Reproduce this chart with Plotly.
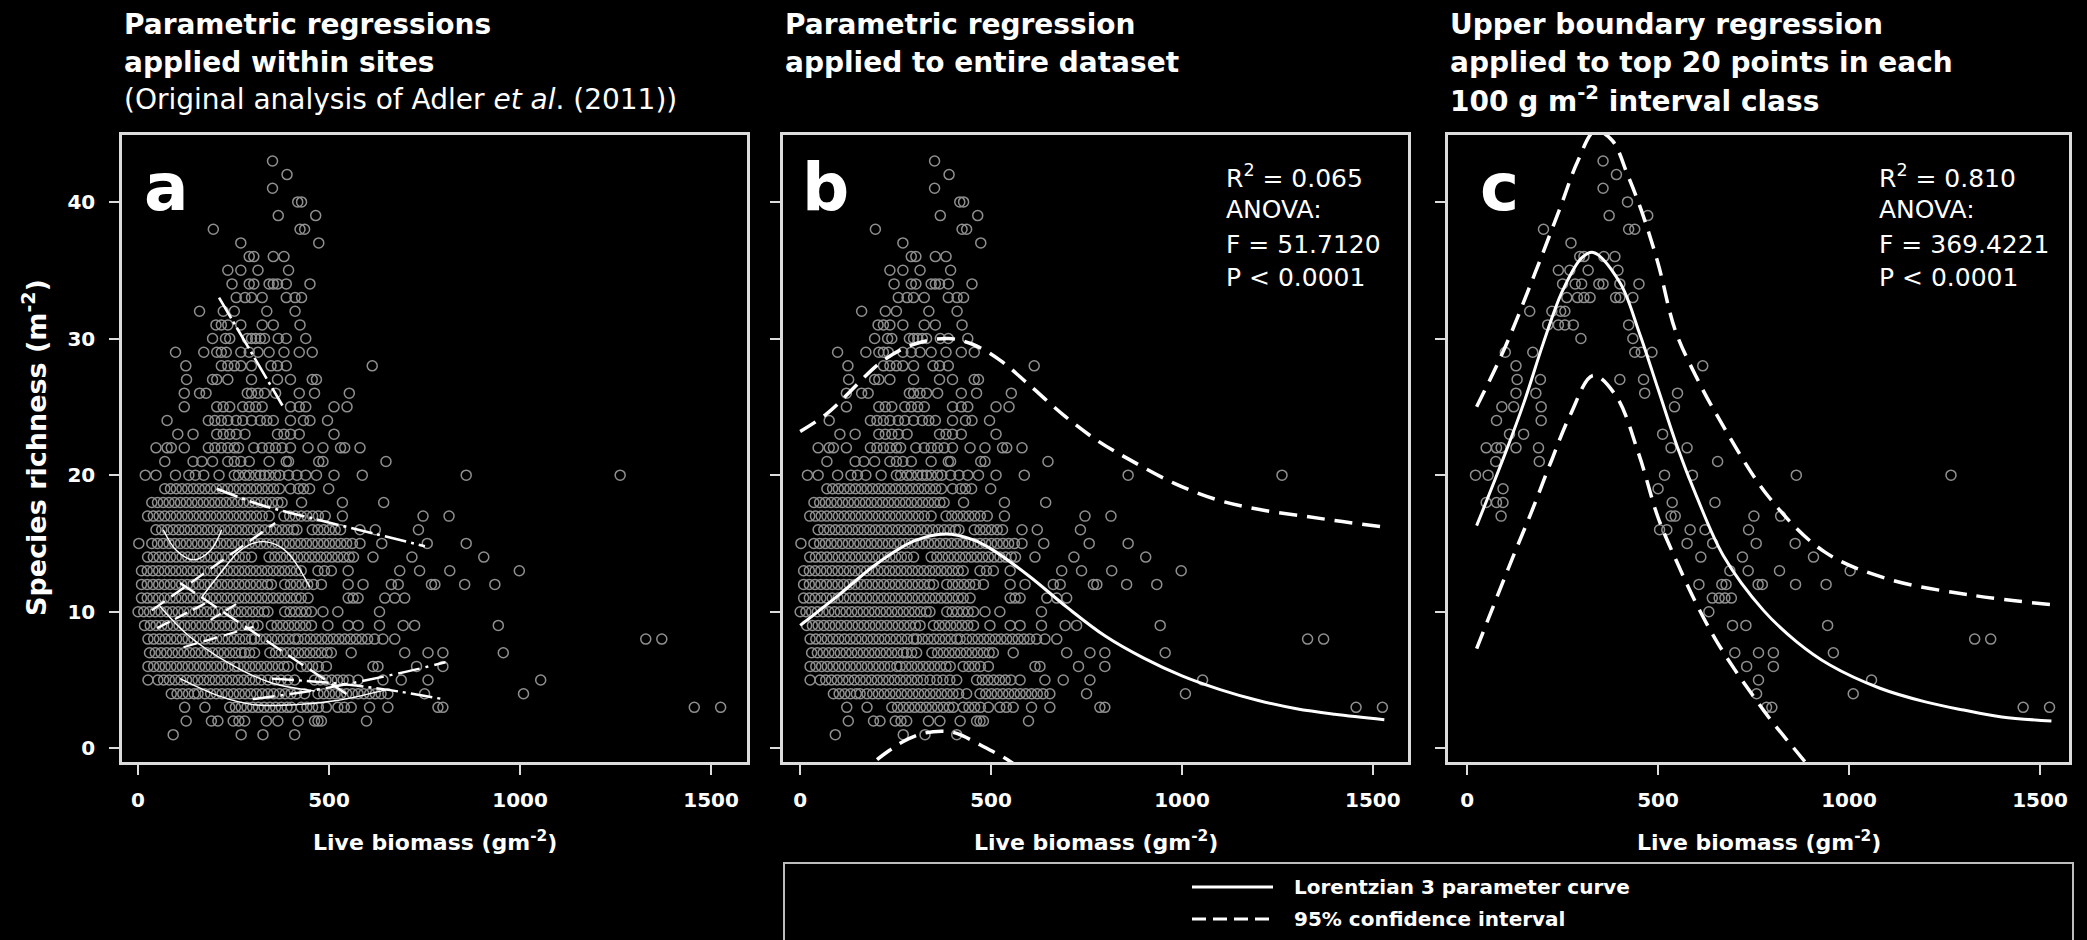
import plotly.graph_objects as go

W, H = 2087, 940

# ---------------- data ----------------
# Species richness levels (integer counts per m2) and the live biomass values of the plots at each level
all_richness = [43, 42, 41, 40, 39, 38, 37, 36, 35, 34, 33, 32, 31, 30, 29, 28, 27, 26, 25, 24, 23, 22, 21, 20,
                19, 18, 17, 16, 15, 14, 13, 12, 11, 10, 9, 8, 7, 6, 5, 4, 3, 2, 1]
all_biomass = [
    [352],
    [390],
    [352],
    [418, 428],
    [367, 465],
    [197, 424, 436],
    [269, 473],
    [291, 303, 354, 382],
    [235, 269, 314, 394],
    [246, 291, 303, 343, 354, 365, 388, 450],
    [257, 280, 297, 325, 388, 411, 428],
    [161, 223, 252, 337, 411],
    [204, 218, 235, 269, 325, 354, 424],
    [195, 229, 240, 286, 297, 308, 320, 331, 367, 388, 439],
    [98, 172, 206, 218, 231, 269, 291, 314, 343, 382, 422, 456],
    [125, 218, 235, 252, 269, 297, 348, 365, 388, 613],
    [127, 195, 206, 235, 297, 365, 399, 456, 467],
    [121, 161, 178, 286, 297, 314, 331, 360, 422, 462, 553],
    [121, 206, 223, 240, 274, 291, 308, 325, 399, 422, 439, 513, 547],
    [76, 184, 201, 218, 235, 257, 274, 297, 320, 337, 354, 399, 433, 450, 496],
    [104, 144, 206, 223, 240, 257, 280, 365, 382, 399, 422, 513],
    [47, 76, 87, 121, 184, 201, 218, 235, 252, 263, 303, 325, 343, 360, 377, 399, 445, 484, 530, 541, 581],
    [70, 144, 167, 195, 235, 252, 269, 291, 343, 388, 394, 473, 484, 649],
    [19, 47, 98, 133, 150, 172, 212, 252, 263, 280, 291, 308, 320, 331, 343, 360, 371, 394, 416, 439, 467,
     513, 587, 859, 1262],
    [70, 85, 100, 115, 130, 145, 160, 175, 190, 205, 220, 235, 250, 265, 280, 295, 310, 325, 340, 355, 370,
     399, 420, 433, 449, 499],
    [36, 51, 66, 81, 96, 111, 126, 141, 156, 171, 186, 201, 216, 231, 246, 261, 276, 291, 306, 321, 336, 351,
     366, 377, 428, 535, 643],
    [25, 40, 55, 70, 85, 100, 115, 130, 145, 160, 175, 190, 205, 220, 235, 250, 265, 280, 295, 310, 325, 343,
     382, 397, 412, 427, 442, 457, 472, 490, 535, 746, 814],
    [47, 62, 77, 92, 107, 122, 137, 152, 167, 182, 197, 212, 227, 242, 257, 272, 287, 302, 317, 332, 347, 362,
     377, 392, 407, 416, 456, 471, 486, 501, 516, 530, 581, 621, 734],
    [2, 36, 51, 66, 81, 96, 111, 126, 141, 156, 171, 186, 201, 216, 231, 246, 261, 276, 291, 306, 321, 336,
     351, 366, 381, 396, 411, 426, 441, 456, 471, 486, 501, 516, 531, 546, 561, 581, 638, 757, 859],
    [25, 40, 55, 70, 85, 100, 115, 130, 145, 160, 175, 190, 205, 220, 235, 250, 265, 280, 297, 343, 358, 373,
     388, 403, 418, 433, 448, 463, 478, 493, 508, 523, 538, 553, 564, 615, 717, 905],
    [9, 24, 39, 54, 69, 84, 99, 114, 129, 144, 159, 174, 189, 204, 219, 234, 249, 264, 279, 294, 309, 324, 339,
     354, 369, 384, 399, 414, 427, 471, 488, 506, 550, 685, 737, 816, 998],
    [9, 24, 39, 54, 69, 84, 99, 114, 129, 144, 159, 174, 189, 204, 219, 234, 249, 264, 279, 294, 309, 324, 339,
     349, 384, 399, 414, 429, 444, 459, 480, 550, 589, 663, 681, 768, 777, 855, 934],
    [9, 24, 39, 54, 69, 84, 99, 114, 129, 144, 159, 174, 189, 204, 219, 234, 249, 264, 279, 294, 309, 324, 339,
     354, 369, 384, 399, 414, 427, 445, 550, 563, 576, 646, 672, 698],
    [0, 15, 30, 45, 60, 75, 90, 105, 120, 135, 150, 165, 180, 195, 210, 225, 240, 255, 270, 285, 300, 315, 330,
     340, 384, 398, 412, 426, 440, 454, 484, 523, 632],
    [17, 32, 47, 62, 77, 92, 107, 122, 137, 152, 167, 182, 197, 212, 227, 242, 257, 272, 287, 302, 314, 349,
     364, 379, 394, 409, 424, 439, 454, 497, 550, 576, 632, 694, 724, 943],
    [26, 41, 56, 71, 86, 101, 116, 131, 146, 161, 176, 191, 206, 221, 236, 251, 266, 281, 297, 305, 320, 335,
     350, 365, 380, 395, 410, 419, 436, 451, 466, 481, 496, 511, 526, 541, 556, 571, 586, 601, 619, 641, 672,
     1329, 1371],
    [30, 45, 60, 75, 90, 105, 120, 135, 150, 165, 180, 195, 210, 225, 240, 255, 270, 279, 292, 305, 345, 360,
     375, 390, 405, 420, 435, 450, 465, 480, 495, 506, 558, 698, 759, 798, 956],
    [26, 41, 56, 71, 86, 101, 116, 131, 146, 161, 176, 191, 206, 221, 236, 253, 262, 277, 292, 307, 322, 337,
     352, 367, 382, 393, 427, 442, 457, 472, 493, 615, 628, 729, 798],
    [26, 52, 67, 82, 97, 112, 127, 142, 157, 172, 187, 202, 217, 232, 247, 262, 277, 292, 307, 322, 340, 358,
     374, 392, 410, 462, 477, 492, 507, 522, 537, 552, 576, 641, 689, 759, 1054],
    [87, 102, 117, 132, 147, 157, 175, 190, 205, 220, 235, 250, 265, 280, 295, 310, 325, 340, 355, 370, 385,
     400, 415, 436, 471, 486, 501, 516, 531, 546, 561, 576, 591, 606, 621, 636, 654, 750, 1009],
    [122, 175, 240, 255, 270, 285, 300, 315, 330, 345, 360, 375, 390, 401, 427, 442, 457, 472, 493, 523, 540,
     558, 606, 654, 785, 798, 1456, 1525],
    [126, 192, 209, 249, 264, 279, 336, 366, 419, 462, 471, 480, 598],
    [92, 270, 327, 410],
]

# Top 20 points in each 100 g m-2 biomass class
top_richness = [43, 42, 41, 40, 39, 38, 37, 36, 35, 34, 33, 32, 31, 30, 29, 28, 27, 26, 25, 24, 23, 22, 21, 20,
                19, 18, 17, 16, 15, 14, 13, 12, 11, 10, 9, 8, 7, 6, 5, 4, 3]
top_biomass = [
    [356], [391], [356], [420], [372, 473], [200, 423, 439], [272], [295, 306, 358, 387],
    [239, 269, 317, 395], [250, 283, 300, 345, 356, 400, 450], [261, 289, 306, 322, 389, 400, 434],
    [164, 222, 245, 256], [211, 239, 256, 278, 423], [298, 434], [100, 172, 439, 456, 484], [128, 617],
    [131, 192, 400, 462], [128, 180, 465, 551], [91, 122, 194, 543], [77, 194], [111, 148, 512],
    [50, 77, 89, 128, 187, 534, 576], [75, 189, 656], [22, 55, 517, 590, 862, 1267], [94, 500],
    [50, 77, 94, 537, 649], [89, 534, 545, 751, 821], [504, 523, 584, 623, 737], [576, 643, 757, 859],
    [612, 721, 907], [688, 736, 818, 1003], [607, 667, 678, 762, 773, 860, 940], [642, 660, 675, 692],
    [633], [695, 730, 944], [1329, 1371], [701, 763, 802, 959], [732, 802], [763, 1059], [758, 1011],
    [784, 798, 1456, 1525],
]

# Within-site parametric fits (panel a)
site_fit_x = [
    [212, 378],
    [206, 324, 476, 620, 751],
    [66, 100, 145, 190, 219],
    [165, 215, 260, 300, 340, 380, 407, 450],
    [36, 359],
    [350, 500, 650, 798],
    [300, 450, 600, 700, 805],
    [110, 555],
    [57, 130, 234, 348, 462],
    [110, 215, 302, 415, 520, 651],
    [50, 175],
    [119, 302],
    [190, 265],
]
site_fit_y = [
    [33.0, 25.1],
    [19.0, 17.8, 16.7, 15.7, 14.8],
    [16.0, 14.5, 13.8, 14.5, 16.0],
    [11.0, 12.8, 14.3, 15.0, 15.1, 14.6, 13.8, 11.8],
    [10.1, 16.5],
    [5.1, 4.8, 4.3, 3.6],
    [3.6, 4.2, 5.0, 5.6, 6.3],
    [12.1, 3.8],
    [10.4, 8.3, 6.3, 4.8, 4.2],
    [5.1, 3.8, 3.2, 3.2, 3.5, 4.3],
    [8.8, 10.6],
    [7.4, 8.9],
    [9.4, 10.7],
]

# Lorentzian 3-parameter fit to the entire dataset (panel b)
fit_b_x = [0, 100, 200, 300, 380, 450, 500, 600, 700, 800, 900, 1000, 1100, 1200, 1300, 1400, 1530]
fit_b_y = [9.0, 11.2, 13.5, 15.2, 15.7, 15.3, 14.6, 12.6, 10.3, 8.2, 6.6, 5.3, 4.3, 3.5, 2.9, 2.5, 2.1]
ci_b_upper_x = [0, 70, 218, 300, 388, 450, 524, 600, 694, 780, 865, 980, 1092, 1200, 1319, 1420, 1530]
ci_b_upper_y = [23.2, 24.5, 28.4, 29.6, 30.0, 29.6, 28.4, 26.6, 24.3, 22.5, 21.1, 19.4, 18.2, 17.5, 17.0, 16.6,
                16.2]
ci_b_lower_x = [150, 196, 236, 270, 323, 375, 410, 471, 550, 600]
ci_b_lower_y = [-2.3, -0.96, -0.11, 0.5, 1.1, 1.25, 1.1, 0.26, -0.96, -2.0]

# Lorentzian 3-parameter upper boundary fit (panel c)
fit_c_x = [25, 100, 150, 200, 250, 300, 330, 400, 450, 500, 550, 600, 671, 776, 863, 950, 1081, 1200, 1300,
           1400, 1530]
fit_c_y = [16.3, 21.6, 25.4, 29.7, 33.5, 35.9, 36.3, 34.1, 30.5, 26.3, 22.1, 18.5, 14.1, 10.1, 7.8, 6.1, 4.4,
           3.4, 2.8, 2.3, 2.0]
ci_c_upper_x = [25, 100, 178, 244, 290, 335, 380, 420, 456, 500, 545, 600, 656, 790, 935, 1102, 1324, 1536]
ci_c_upper_y = [25.0, 29.4, 34.8, 39.6, 43.0, 45.2, 44.5, 42.0, 39.4, 35.5, 30.6, 27.2, 24.3, 18.4, 14.4, 12.4,
                11.2, 10.5]
ci_c_lower_x = [25, 117, 170, 220, 270, 330, 390, 450, 500, 550, 600, 650, 700, 750, 800, 850, 900]
ci_c_lower_y = [7.3, 13.8, 17.4, 21.0, 24.4, 27.3, 25.8, 21.5, 16.9, 13.6, 10.6, 8.0, 5.8, 3.8, 1.9, 0.2, -1.5]

x_ticks = [0, 500, 1000, 1500]
y_ticks = [0, 10, 20, 30, 40]


def flatten(levels, groups):
    xs, ys = [], []
    for level, row in zip(levels, groups):
        for v in row:
            xs.append(v)
            ys.append(level)
    return xs, ys


all_x, all_y = flatten(all_richness, all_biomass)
top_x, top_y = flatten(top_richness, top_biomass)

# ---------------- styling / layout helpers ----------------
FONT = "DejaVu Sans"
WHITE = "#ffffff"
FRAME = "#dcdcdc"
POINT = "#8f8f8f"
DASH = "18px,10px"


def px_x(p):
    return p / W


def px_y(p):
    return 1 - p / H


# plot-box pixel positions (left, right) and x ranges so that 0 lands at the right place
boxes = [(122, 747), (783, 1408), (1448, 2069)]
x_ranges = [[-42, 1594], [-45, 1592], [-50, 1576]]
box_top, box_bottom = 135, 762
y_range = [-1.0, 44.9]

fig = go.Figure()

marker = dict(symbol="circle-open", size=10, color=POINT, line=dict(width=1.5, color=POINT))

fig.add_trace(go.Scatter(x=all_x, y=all_y, mode="markers", marker=marker, xaxis="x", yaxis="y",
                         hoverinfo="skip", showlegend=False))
fig.add_trace(go.Scatter(x=all_x, y=all_y, mode="markers", marker=marker, xaxis="x2", yaxis="y2",
                         hoverinfo="skip", showlegend=False))
fig.add_trace(go.Scatter(x=top_x, y=top_y, mode="markers", marker=marker, xaxis="x3", yaxis="y3",
                         hoverinfo="skip", showlegend=False))

# panel a: within-site fits
site_styles = [
    ("24px,4px,3px,4px", 2.6), ("22px,5px,3px,5px", 2.6), ("solid", 1.4), ("solid", 1.4),
    ("16px,8px", 2.4), ("22px,5px,3px,5px", 2.4), ("22px,6px,3px,6px", 2.4), ("18px,8px", 2.4),
    ("solid", 1.4), ("solid", 1.4), ("14px,6px", 2.4), ("14px,7px", 2.2), ("12px,6px", 2.2),
]
for xs, ys, (dash, w) in zip(site_fit_x, site_fit_y, site_styles):
    fig.add_trace(go.Scatter(x=xs, y=ys, mode="lines", line=dict(color=WHITE, width=w, dash=dash,
                                                                   shape="spline"),
                             xaxis="x", yaxis="y", hoverinfo="skip", showlegend=False))

# panel b curves
fig.add_trace(go.Scatter(x=fit_b_x, y=fit_b_y, mode="lines", line=dict(color=WHITE, width=3, shape="spline"),
                         xaxis="x2", yaxis="y2", hoverinfo="skip", showlegend=False))
for xs, ys in [(ci_b_upper_x, ci_b_upper_y), (ci_b_lower_x, ci_b_lower_y)]:
    fig.add_trace(go.Scatter(x=xs, y=ys, mode="lines",
                             line=dict(color=WHITE, width=3.5, dash=DASH, shape="spline"),
                             xaxis="x2", yaxis="y2", hoverinfo="skip", showlegend=False))

# panel c curves
fig.add_trace(go.Scatter(x=fit_c_x, y=fit_c_y, mode="lines", line=dict(color=WHITE, width=3, shape="spline"),
                         xaxis="x3", yaxis="y3", hoverinfo="skip", showlegend=False))
for xs, ys in [(ci_c_upper_x, ci_c_upper_y), (ci_c_lower_x, ci_c_lower_y)]:
    fig.add_trace(go.Scatter(x=xs, y=ys, mode="lines",
                             line=dict(color=WHITE, width=3.5, dash=DASH, shape="spline"),
                             xaxis="x3", yaxis="y3", hoverinfo="skip", showlegend=False))

axis_common = dict(showgrid=False, zeroline=False, showline=True, mirror=True, linecolor=FRAME, linewidth=2.5,
                   ticks="outside", ticklen=10, tickwidth=2, tickcolor=FRAME)
layout = dict(width=W, height=H, margin=dict(l=0, r=0, t=0, b=0), paper_bgcolor="black",
              plot_bgcolor="black", showlegend=False)
ydom = [px_y(box_bottom), px_y(box_top)]
for i, ((l, r), xr) in enumerate(zip(boxes, x_ranges)):
    sfx = "" if i == 0 else str(i + 1)
    layout["xaxis" + sfx] = dict(axis_common, domain=[px_x(l), px_x(r)], range=xr, tickvals=x_ticks,
                                 tickfont=dict(family=FONT, size=20, color=WHITE, weight="bold"),
                                 ticklabelstandoff=8, anchor="y" + sfx)
    layout["yaxis" + sfx] = dict(axis_common, domain=ydom, range=y_range, tickvals=y_ticks,
                                 showticklabels=(i == 0),
                                 tickfont=dict(family=FONT, size=20, color=WHITE, weight="bold"),
                                 ticklabelstandoff=10, anchor="x" + sfx)
fig.update_layout(**layout)

ann = []


def text(x, y, s, size, anchor="left", angle=0, weight="normal"):
    ann.append(dict(x=px_x(x), y=px_y(y), xref="paper", yref="paper", text=s, showarrow=False,
                    xanchor=anchor, yanchor="middle", textangle=angle,
                    font=dict(family=FONT, size=size, color=WHITE, weight=weight)))


# panel headings
title_rows = [25, 62, 99]
headings = [
    ["<b>Parametric regressions</b>", "<b>applied within sites</b>",
     "(Original analysis of Adler <i>et al</i>. (2011))"],
    ["<b>Parametric regression</b>", "<b>applied to entire dataset</b>"],
    ["<b>Upper boundary regression</b>", "<b>applied to top 20 points in each</b>",
     "<b>100 g m<sup>-2</sup> interval class</b>"],
]
for (l, r), lines in zip(boxes, headings):
    for yy, s in zip(title_rows, lines):
        text(l, yy, s, 28)

# panel letters
for xx, s in [(142, "a"), (800, "b"), (1478, "c")]:
    text(xx, 187, "<b>%s</b>" % s, 66)

# fit statistics
stats = [
    (1224, ["R<sup>2</sup> = 0.065", "ANOVA:", "F = 51.7120", "P &lt; 0.0001"]),
    (1877, ["R<sup>2</sup> = 0.810", "ANOVA:", "F = 369.4221", "P &lt; 0.0001"]),
]
for xx, lines in stats:
    for yy, s in zip([176, 210, 244, 278], lines):
        text(xx, yy, s, 25)

# axis titles
for l, r in boxes:
    text((l + r) / 2, 841, "<b>Live biomass (gm<sup>-2</sup>)</b>", 22, anchor="center")
text(34, 448, "<b>Species richness (m<sup>-2</sup>)</b>", 27, anchor="center", angle=-90)

# legend
text(1292, 887, "<b>Lorentzian 3 parameter curve</b>", 20)
text(1292, 919, "<b>95% confidence interval</b>", 20)

shapes = [
    dict(type="rect", xref="paper", yref="paper", x0=px_x(784), x1=px_x(2073), y0=px_y(950), y1=px_y(863),
         line=dict(color="#bdbdbd", width=2)),
    dict(type="line", xref="paper", yref="paper", x0=px_x(1192), x1=px_x(1273), y0=px_y(887), y1=px_y(887),
         line=dict(color=WHITE, width=3)),
    dict(type="line", xref="paper", yref="paper", x0=px_x(1192), x1=px_x(1273), y0=px_y(919), y1=px_y(919),
         line=dict(color=WHITE, width=3, dash="14px,7px")),
]
fig.update_layout(annotations=ann, shapes=shapes)

fig.write_html("out.html")
